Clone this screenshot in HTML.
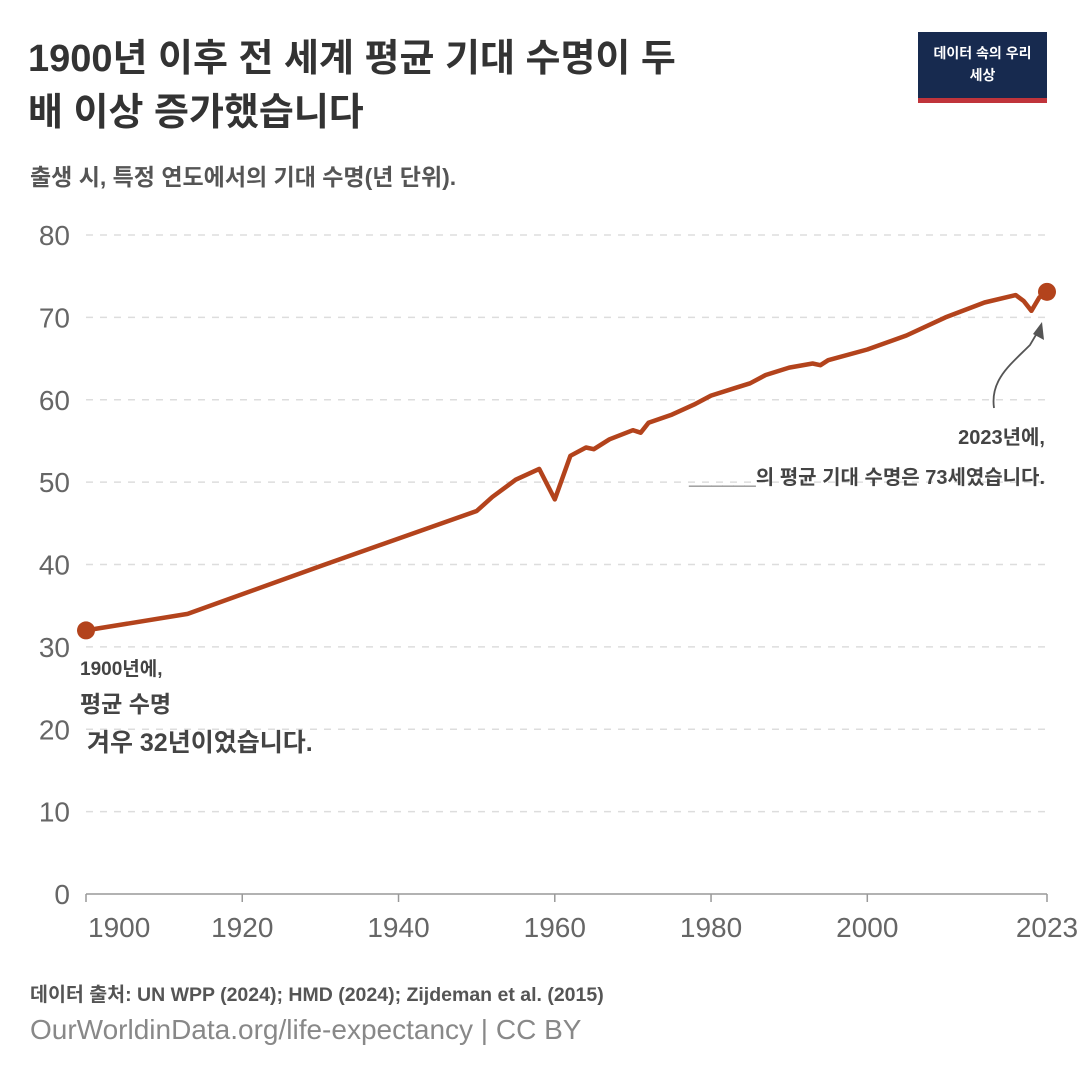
<!DOCTYPE html>
<html><head><meta charset="utf-8">
<style>
body{margin:0;background:#fff;font-family:"Liberation Sans","Noto Sans CJK KR",sans-serif;}
#wrap{position:relative;width:1080px;height:1080px;overflow:hidden;}
.t{position:absolute;}
</style></head><body>
<div id="wrap">
<div class="t" style="left:28px;top:32px;font-size:38px;font-weight:bold;color:#333;line-height:54px;width:720px;">1900년 이후 전 세계 평균 기대 수명이 두<br>배 이상 증가했습니다</div>
<div class="t" style="left:30px;top:158px;font-size:23px;font-weight:bold;color:#555;">출생 시, 특정 연도에서의 기대 수명(년 단위).</div>
<div class="t" style="left:918px;top:32px;width:129px;height:71px;background:#172a4f;border-bottom:5px solid #c0343b;box-sizing:border-box;color:#fff;font-size:14px;font-weight:bold;text-align:center;line-height:22px;padding-top:10px;">데이터 속의 우리<br>세상</div>
<svg id="chart" class="t" style="left:0;top:0" width="1080" height="1080"></svg>
<div class="t" style="left:80px;top:654px;color:#444;font-weight:bold;">
<div style="font-size:19px;">1900년에,</div>
<div style="font-size:23px;margin-top:4px;">평균 수명</div>
<div style="font-size:25px;margin-top:4px;">&nbsp;겨우 32년이었습니다.</div></div>
<div class="t" style="right:35px;top:418px;text-align:right;color:#444;font-weight:bold;font-size:20px;line-height:40px;">2023년에,<br>______의 평균 기대 수명은 73세였습니다.</div>
<div class="t" style="left:30px;top:978px;font-size:19.5px;font-weight:bold;color:#555;">데이터 출처: UN WPP (2024); HMD (2024); Zijdeman et al. (2015)</div>
<div class="t" style="left:30px;top:1014px;font-size:28px;color:#888;">OurWorldinData.org/life-expectancy | CC BY</div>
</div>
<script>
const years=[1900,1913,1930,1950,1952,1955,1958,1960,1962,1964,1965,1967,1970,1971,1972,1975,1978,1980,1983,1985,1987,1990,1993,1994,1995,2000,2005,2010,2015,2019,2020,2021,2022,2023];
const values=[32,34,39.8,46.5,48.2,50.3,51.6,47.9,53.2,54.2,54,55.2,56.3,56,57.2,58.2,59.5,60.5,61.4,62,63,63.9,64.4,64.2,64.8,66.1,67.8,70,71.8,72.7,72,70.8,72.4,73.1];
const yTicks=[0,10,20,30,40,50,60,70,80];
const xTicks=[1900,1920,1940,1960,1980,2000,2023];
const NS="http://www.w3.org/2000/svg";
const svg=document.getElementById('chart');
const X=y=>86+(y-1900)*(1047-86)/123;
const Y=v=>894-v*(894-235)/80;
function mk(t,a){const e=document.createElementNS(NS,t);for(const k in a)e.setAttribute(k,a[k]);svg.appendChild(e);return e;}
yTicks.forEach(v=>{
 if(v>0){const l=mk('line',{x1:86,x2:1047,y1:Y(v),y2:Y(v),stroke:'#ddd','stroke-dasharray':'7,7','stroke-width':1.5});
 
 }
 const t=mk('text',{x:70,y:Y(v)+10,'text-anchor':'end','font-size':28,fill:'#666','font-family':'Liberation Sans,sans-serif'});
 t.textContent=v;
 
 
});
const ax=mk('line',{x1:86,x2:1047,y1:Y(0),y2:Y(0),stroke:'#999','stroke-width':1.5});


xTicks.forEach((y,i)=>{
 const k=mk('line',{x1:X(y),x2:X(y),y1:Y(0),y2:Y(0)+8,stroke:'#999','stroke-width':1.5});
 
 
 const t=mk('text',{x:i===0?X(y)+2:X(y),y:937,'text-anchor':i===0?'start':'middle','font-size':28,fill:'#666','font-family':'Liberation Sans,sans-serif'});
 t.textContent=y;
 
 
});
const d=years.map((y,i)=>(i?'L':'M')+X(y).toFixed(1)+','+Y(values[i]).toFixed(1)).join('');
const p=mk('path',{d:d,fill:'none',stroke:'#b3431c','stroke-width':4.5,'stroke-linejoin':'round'});


[0,years.length-1].forEach(i=>{
 const c=mk('circle',{cx:X(years[i]),cy:Y(values[i]),r:9,fill:'#b3431c'});
 
 
});
const ar=mk('path',{d:'M994,408 C990,380 1010,365 1030,345 L1040,328',fill:'none',stroke:'#555','stroke-width':1.8});


const ah=mk('path',{d:'M1042,322 L1044,340 L1033,334 Z',fill:'#555'});


</script>
</body></html>
